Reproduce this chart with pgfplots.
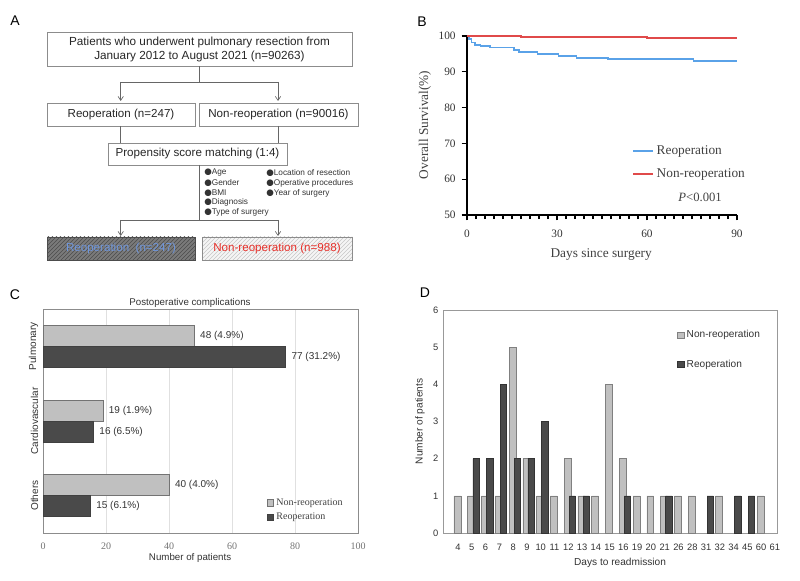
\documentclass[border=0pt]{standalone}
\usepackage{fontspec}
\setmainfont{Liberation Sans}
\newfontfamily\serif{Liberation Serif}
\newfontfamily\dejavu{DejaVu Sans}
\usepackage{pgfplots}
\pgfplotsset{compat=1.18}
\usetikzlibrary{patterns,arrows.meta}

\definecolor{lightbar}{HTML}{C0C0C0}
\definecolor{darkbar}{HTML}{4A4A4A}
\definecolor{kmblue}{HTML}{5AA2E8}
\definecolor{kmred}{HTML}{E04A4A}
\definecolor{boxline}{HTML}{8C8C8C}
\definecolor{txtblue}{HTML}{6F96DC}
\definecolor{txtred}{HTML}{E8302A}

\newcommand\bul{{\dejavu\fontsize{6.5}{7}\selectfont ●}}

\begin{document}
\begin{tikzpicture}
% ---------- panel A: flow chart, and panel letters (pixel grid, y down)
\begin{scope}[x=0.75pt,y=-0.75pt]
\path (0,0) rectangle (800,581);
\tikzset{flow/.style={black!60, line width=0.5pt},
         arr/.style={flow, -{Straight Barb[length=3pt,width=4pt]}},
         btxt/.style={font=\fontsize{8.7}{10}\selectfont, text=black!85}}
\node[font=\fontsize{10.5}{12}\selectfont] at (15,21) {A};
\node[font=\fontsize{10.5}{12}\selectfont] at (422,22) {B};
\node[font=\fontsize{10.5}{12}\selectfont] at (15,295) {C};
\node[font=\fontsize{10.5}{12}\selectfont] at (425,293) {D};

\draw[boxline] (47,32) rectangle (352,66);
\node[btxt, align=center, font=\fontsize{8.8}{10.5}\selectfont] at (199.5,49.5)
  {Patients who underwent pulmonary resection from\\January 2012 to August 2021 (n=90263)};
\draw[flow] (199,66) -- (199,82);
\draw[flow] (120.7,82) -- (278,82);
\draw[arr] (120.7,82) -- (120.7,101);
\draw[arr] (278,82) -- (278,101);
\draw[boxline] (47,103) rectangle (195,126);
\node[btxt] at (121,114.5) {Reoperation (n=247)};
\draw[boxline] (199,103) rectangle (358,126);
\node[btxt] at (278.5,114.5) {Non-reoperation (n=90016)};
\draw[flow] (120.7,126) -- (120.7,143);
\draw[flow] (278,126) -- (278,143);
\draw[boxline] (108,143) rectangle (287,165);
\node[btxt] at (197.5,154) {Propensity score matching (1:4)};
\draw[flow] (199,165) -- (199,220);
\draw[flow] (120.7,220) -- (278,220);
\draw[arr] (120.7,220) -- (120.7,236);
\draw[arr] (278,220) -- (278,236);

\begin{scope}[every node/.style={anchor=west, inner sep=0pt,
    font=\fontsize{6.2}{7}\selectfont, text=black!80}]
\node at (204,173) {\bul Age};
\node at (204,183) {\bul Gender};
\node at (204,193) {\bul BMI};
\node at (204,202) {\bul Diagnosis};
\node at (204,212) {\bul Type of surgery};
\node at (266,173) {\bul Location of resection};
\node at (266,183) {\bul Operative procedures};
\node at (266,193) {\bul Year of surgery};
\end{scope}

\fill[black!52] (47,237) rectangle (195,260);
\path[pattern=north east lines, pattern color=black!70] (47,237) rectangle (195,260);
\draw[black!70] (47,237) rectangle (195,260);
\node[btxt, text=txtblue] at (121,248.5) {Reoperation\ \ (n=247)};
\fill[black!4] (202,237) rectangle (352,260);
\path[pattern=north east lines, pattern color=black!22] (202,237) rectangle (352,260);
\draw[boxline] (202,237) rectangle (352,260);
\node[btxt, text=txtred] at (277,248.5) {Non-reoperation (n=988)};

\node[font=\fontsize{7.3}{8}\selectfont, text=black!80] at (190,303) {Postoperative complications};
\end{scope}

% ---------- panel B: survival curves
\begin{axis}[
  at={(350.25pt,-161.25pt)}, anchor=south west,
  scale only axis, width=202.5pt, height=134.25pt,
  xmin=0, xmax=90, ymin=50, ymax=100,
  axis x line*=bottom, axis y line*=left,
  axis line style={black, line width=1.4pt, -},
  xtick={0,30,60,90}, ytick={50,60,...,100}, minor x tick num=9,
  tick align=outside, major tick length=4pt, minor tick length=3pt,
  every tick/.style={black, line width=1pt},
  /pgf/number format/assume math mode=true,
  ticklabel style={font=\serif\fontsize{8.5}{10}\selectfont, text=black!80},
  xticklabel style={yshift=-3.5pt},
  yticklabel style={xshift=-1pt},
  xlabel={Days since surgery}, ylabel={Overall Survival(\%)},
  label style={font=\serif\fontsize{10}{12}\selectfont, text=black!75},
  xlabel style={at={(rel axis cs:0.497,-0.2235)}, anchor=center},
  ylabel style={at={(rel axis cs:-0.1556,0.503)}, anchor=center},
  legend style={at={(0.596,0.419)}, anchor=north west, draw=none, fill=none,
    font=\serif\fontsize{10}{12}\selectfont, text=black!75, row sep=5pt},
  legend cell align=left,
  legend image code/.code={\draw[#1] (0pt,0pt) -- (15pt,0pt);},
  clip=false,
]
\addplot[kmblue, line width=1.4pt, const plot mark left] coordinates {
  (0,100) (0.6,99.2) (1.5,98.2) (2.8,97.6) (4.5,97.2) (7.8,96.8) (15.6,96.2)
  (17.2,95.6) (23.5,95.0) (30.5,94.4) (36.5,93.9) (47,93.5) (75.5,93.0) (90,93.0)};
\addplot[kmred, line width=1.4pt, const plot mark left] coordinates {
  (0,100) (18,99.7) (60,99.35) (90,99.35)};
\legend{Reoperation,Non-reoperation}
\node[font=\serif\fontsize{9.5}{11}\selectfont, text=black!75] at (axis cs:77.7,55) {\textit{P}<0.001};
\end{axis}

% ---------- panel C: complications
\begin{axis}[
  at={(32.25pt,-399.75pt)}, anchor=south west,
  scale only axis, width=236.25pt, height=168pt,
  xbar, bar width=0.28,
  xmin=0, xmax=100, ymin=0.5, ymax=3.5,
  xtick={0,20,...,100}, ytick={1,2,3},
  yticklabels={Others,Cardiovascular,Pulmonary},
  major tick length=0pt,
  xmajorgrids, grid style={black!12},
  axis line style={black!45},
  /pgf/number format/assume math mode=true,
  xticklabel style={font=\serif\fontsize{7.5}{9}\selectfont, text=black!55, yshift=-4pt},
  yticklabel style={rotate=90, anchor=south, font=\fontsize{7.5}{9}\selectfont, text=black!80},
  xlabel={Number of patients},
  xlabel style={at={(rel axis cs:0.467,-0.1116)}, anchor=center,
    font=\fontsize{7.3}{9}\selectfont, text=black!80},
  point meta=explicit symbolic,
  nodes near coords,
  every node near coord/.append style={anchor=west, xshift=1pt,
    font=\fontsize{7.5}{9}\selectfont, text=black!80},
  legend style={at={(0.698,0.179)}, anchor=north west, draw=none, fill=none,
    font=\serif\fontsize{7.5}{9}\selectfont, text=black!75, row sep=0.5pt},
  legend cell align=left,
  legend image code/.code={\draw[#1, line width=0.4pt] (0pt,-2.3pt) rectangle (4.6pt,2.3pt);},
]
\addplot[fill=lightbar, draw=black!55, bar shift=0.14] coordinates {
  (48,3) [48 (4.9\%)] (19,2) [19 (1.9\%)] (40,1) [40 (4.0\%)]};
\addplot[fill=darkbar, draw=black!75, bar shift=-0.14] coordinates {
  (77,3) [77 (31.2\%)] (16,2) [16 (6.5\%)] (15,1) [15 (6.1\%)]};
\legend{Non-reoperation,Reoperation}
\end{axis}

% ---------- panel D: days to readmission
\begin{axis}[
  at={(332.25pt,-399.75pt)}, anchor=south west,
  scale only axis, width=250.5pt, height=167.25pt,
  ybar, xmin=-1.09, xmax=23.15, ymin=0, ymax=6,
  xtick={0,...,23},
  xticklabels={4,5,6,7,8,9,10,11,12,13,14,15,16,19,20,21,26,28,31,32,34,45,60,61},
  ytick={0,...,6}, major tick length=0pt,
  axis line style={black!40},
  /pgf/number format/assume math mode=true,
  ticklabel style={font=\fontsize{7}{8}\selectfont, text=black!80},
  xticklabel style={yshift=-5pt},
  xlabel={Days to readmission}, ylabel={Number of patients},
  label style={font=\fontsize{7.6}{9}\selectfont, text=black!80},
  xlabel style={at={(rel axis cs:0.53,-0.1345)}, anchor=center},
  ylabel style={at={(rel axis cs:-0.069,0.5)}, anchor=center},
  legend style={at={(0.689,0.933)}, anchor=north west, draw=none, fill=none,
    font=\fontsize{7.6}{9}\selectfont, text=black!80, row sep=11pt},
  legend cell align=left,
  legend image code/.code={\draw[#1, line width=0.4pt] (0pt,-2.3pt) rectangle (4.6pt,2.3pt);},
]
\addplot[fill=lightbar, draw=black!50, bar width=0.5, bar shift=-0.05] coordinates {
  (0,1) (1,1) (2,1) (3,1) (4,5) (5,2) (6,1) (7,1) (8,2) (9,1) (10,1) (11,4)
  (12,2) (13,1) (14,1) (15,1) (16,1) (17,1) (19,1) (22,1)};
\addplot[fill=darkbar, draw=black!80, bar width=0.45, bar shift=0.3] coordinates {
  (1,2) (2,2) (3,4) (4,2) (5,2) (6,3) (8,1) (9,1) (12,1) (15,1) (18,1) (20,1) (21,1)};
\legend{Non-reoperation,Reoperation}
\end{axis}
\end{tikzpicture}
\end{document}
